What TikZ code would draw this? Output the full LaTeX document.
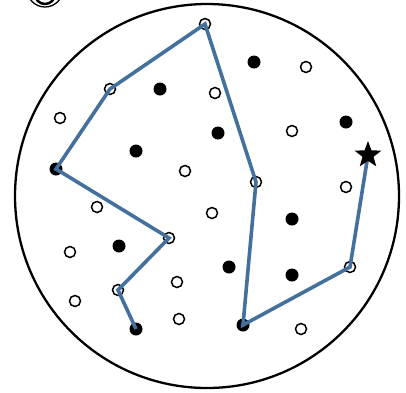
\documentclass[tikz,border=0pt]{standalone}
\usepackage{tikz}
\usetikzlibrary{shapes.geometric}
\definecolor{walkblue}{HTML}{44709D}
\tikzset{
  opendot/.style={circle,draw=black,fill=white,line width=1.5pt,minimum size=11pt,inner sep=0pt},
  fulldot/.style={circle,fill=black,minimum size=13pt,inner sep=0pt},
  goal/.style={star,star points=5,star point ratio=2.4,fill=black,minimum size=28pt,inner sep=0pt},
  walk/.style={draw=walkblue,line width=3.6pt},
  rim/.style={draw=black,line width=2.3pt}}
\begin{document}
\begin{tikzpicture}[x=1pt,y=-1pt]
  \useasboundingbox (0,0) rectangle (406,392);
  % badge cut off at the top edge
  \node[circle,draw=black,line width=1.3pt,minimum size=36pt,inner sep=0pt] (badge) at (45,-11) {};
  \node[circle,draw=black,line width=2.5pt,minimum size=20pt,inner sep=0pt] (badgein) at (45,-6) {};
  % domain
  \node[circle,rim,minimum size=384pt,inner sep=0pt] (domain) at (207,196) {};
  % scattered samples
  \foreach \x/\y [count=\i] in {254/62,160/89,346/122,218/133,136/151,292/219,119/246,229/267,292/275}
    \node[fulldot] (f\i) at (\x,\y) {};
  \foreach \x/\y [count=\i] in {306/67,215/93,60/118,292/131,185/171,346/187,97/207,212/213,70/252,177/282,75/301,179/319,301/329}
    \node[opendot] (o\i) at (\x,\y) {};
  % samples on the walk
  \node[fulldot] (v0) at (136,329) {};
  \node[opendot] (v1) at (118,290) {};
  \node[opendot] (v2) at (169,238) {};
  \node[fulldot] (v3) at (56,169) {};
  \node[opendot] (v4) at (110,89) {};
  \node[opendot] (v5) at (205,24) {};
  \node[opendot] (v6) at (256,182) {};
  \node[fulldot] (v7) at (243,325) {};
  \node[opendot] (v8) at (350,267) {};
  \coordinate (v9) at (368,155);
  \draw[walk] (v0.center) -- (v1.center) -- (v2.center) -- (v3.center) -- (v4.center)
    -- (v5.center) -- (v6.center) -- (v7.center) -- (v8.center) -- (v9);
  \node[goal] (target) at (v9) {};
\end{tikzpicture}
\end{document}
